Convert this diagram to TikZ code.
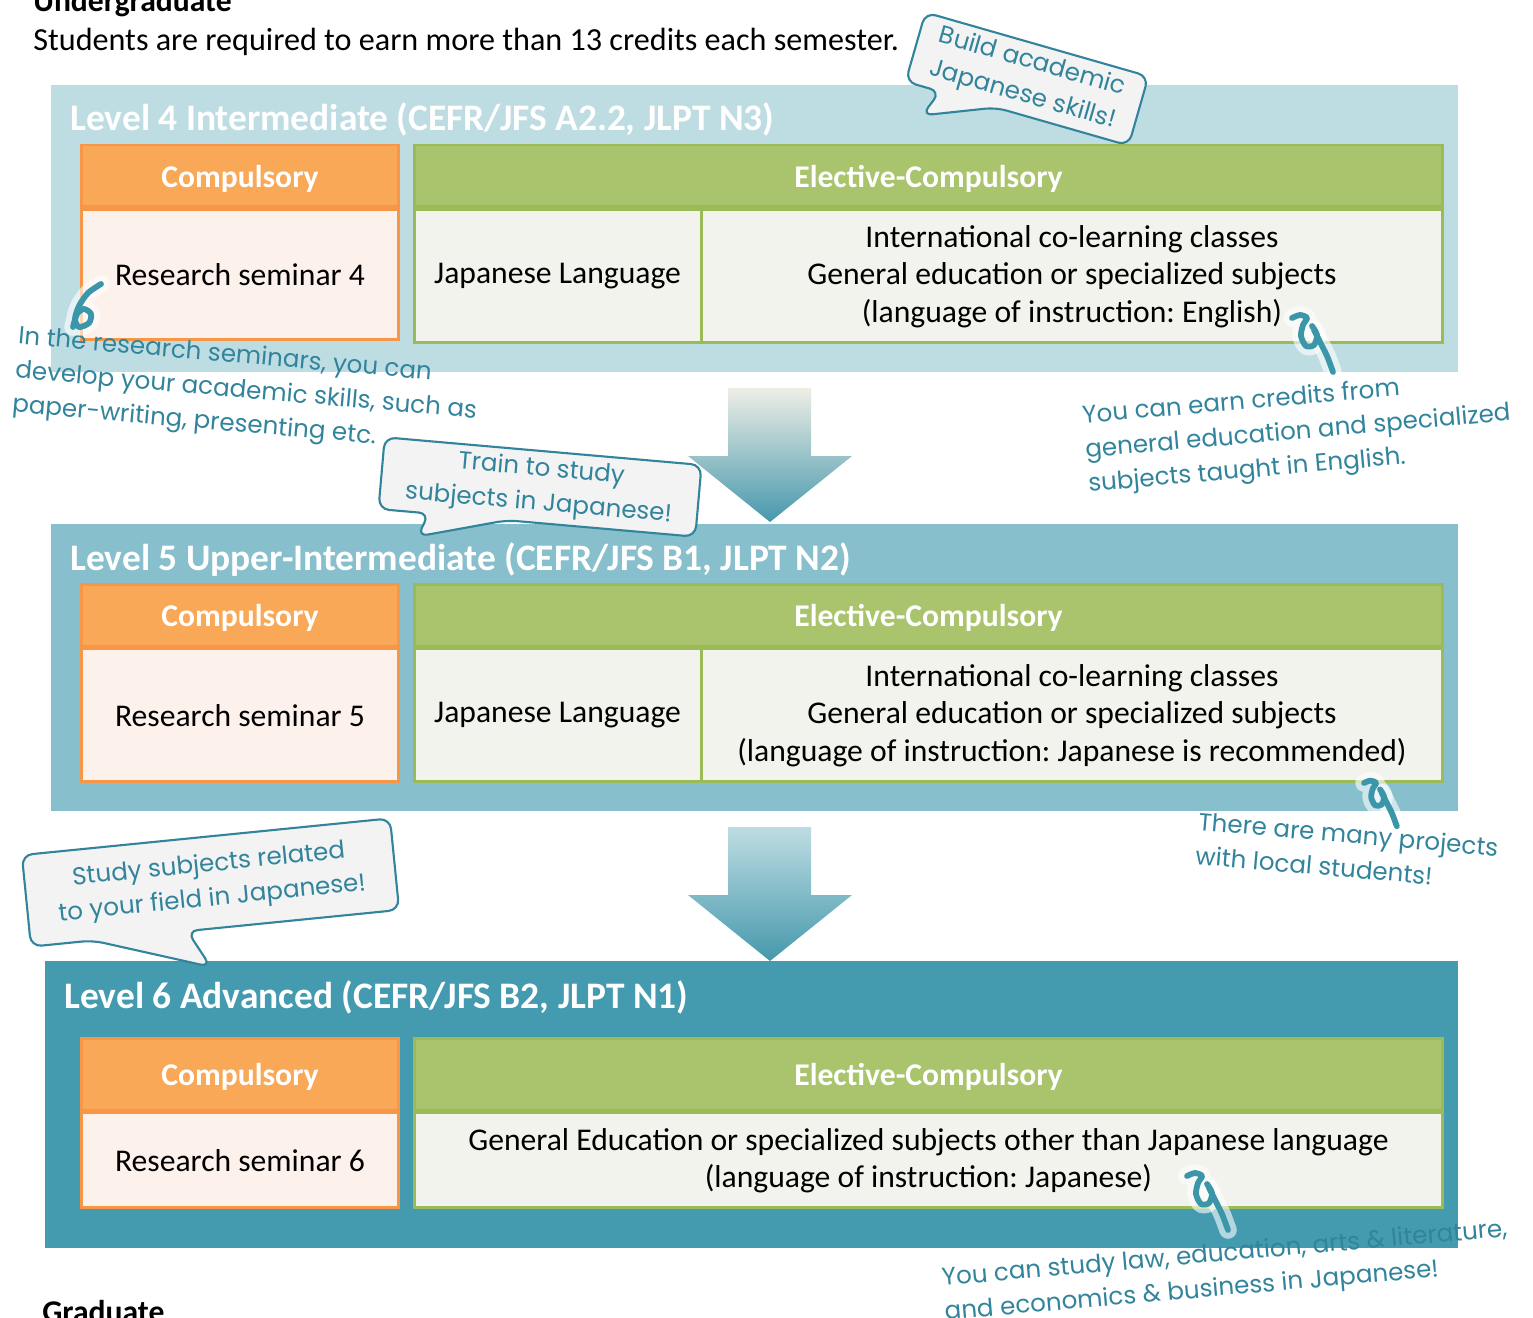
\documentclass[tikz,border=0pt]{standalone}
\usepackage{fontspec}
\setmainfont{Carlito}
\newfontfamily\handfont{Poppins}
\usetikzlibrary{positioning}
\frenchspacing

\definecolor{lvfour}{RGB}{190,221,227}
\definecolor{lvfive}{RGB}{136,191,204}
\definecolor{lvsix}{RGB}{68,154,175}
\definecolor{orhead}{RGB}{249,168,87}
\definecolor{orline}{RGB}{247,150,70}
\definecolor{orbody}{RGB}{253,241,236}
\definecolor{grhead}{RGB}{169,196,108}
\definecolor{grline}{RGB}{155,187,89}
\definecolor{grbody}{RGB}{241,243,236}
\definecolor{tealtext}{RGB}{49,132,155}
\definecolor{tealhook}{RGB}{59,150,170}
\definecolor{bubble}{RGB}{243,243,243}
\definecolor{arrtop}{RGB}{238,238,230}
\definecolor{arrmid}{RGB}{190,221,227}
\definecolor{arrbot}{RGB}{70,152,172}

\newcommand{\bodysize}{\fontsize{18}{21.3}\selectfont}
\newcommand{\handsize}{\handfont\fontsize{14}{19.5}\selectfont}

\tikzset{
	panel/.style={inner sep=0, minimum width=28.14cm, minimum height=5.74cm},
	leveltitle/.style={anchor=base west, inner sep=0, text=white, font=\fontsize{21.3}{25}\selectfont\bfseries},
	headcell/.style={draw, line width=1.7pt, inner sep=0, text depth=0pt, text=white, font=\bodysize\bfseries},
	comphead/.style={headcell, fill=orhead, draw=orline, minimum width=6.36cm},
	elehead/.style={headcell, fill=grhead, draw=grline, minimum width=20.58cm},
	compbody/.style={draw=orline, fill=orbody, line width=1.7pt, inner sep=0, minimum width=6.36cm, font=\bodysize, align=center},
	elebody/.style={draw=grline, fill=grbody, line width=1.7pt, inner sep=0, font=\bodysize, align=center},
	callout/.style={draw=tealtext, fill=bubble, line width=1.2pt, rounded corners=6pt},
	handtext/.style={text=tealtext, font=\handsize, align=center, inner sep=0},
	note/.style={text=tealtext, font=\handsize, align=left, inner sep=0},
	hook/.style={draw=tealhook, line width=3.3pt, line cap=round, line join=round},
	glow/.style={draw=white, opacity=0.6, line width=10pt, line cap=round, line join=round},
}

\begin{document}
\begin{tikzpicture}[x=0.02cm, y=-0.02cm]
	\useasboundingbox (0,0) rectangle (1533,1317);
	% headings
	\node[anchor=base west, inner sep=0, font=\bodysize\bfseries] (ugrad) at (33,12) {Undergraduate};
	\node[anchor=base west, inner sep=0, font=\fontsize{18.3}{22}\selectfont] (rule) at (33,51) {Students are required to earn more than 13 credits each semester.};
	\node[anchor=base west, inner sep=0, font=\bodysize\bfseries] (grad) at (42,1322) {Graduate};

	% Level 4
	\node[panel, fill=lvfour] (lv4) at (754.5,228.5) {};
	\node[leveltitle] (lv4t) at (70,131) {Level 4 Intermediate (CEFR/JFS A2.2, JLPT N3)};
	\node[comphead, minimum height=1.24cm] (c4h) at (240,176) {Compulsory};
	\node[compbody, minimum height=2.6cm, below=0pt of c4h] (c4b) {Research seminar 4};
	\node[elehead, minimum height=1.24cm] (e4h) at (928.5,176) {Elective-Compulsory};
	\node[elebody, minimum width=5.74cm, minimum height=2.66cm, below=0pt of e4h.south west, anchor=north west] (j4) {Japanese Language};
	\node[elebody, minimum width=14.84cm, minimum height=2.66cm, below=0pt of e4h.south east, anchor=north east] (i4) {International co-learning classes\\General education or specialized subjects\\(language of instruction: English)};

	% Level 5
	\node[panel, fill=lvfive] (lv5) at (754.5,667.5) {};
	\node[leveltitle] (lv5t) at (70,570) {Level 5 Upper-Intermediate (CEFR/JFS B1, JLPT N2)};
	\node[comphead, minimum height=1.24cm] (c5h) at (240,615) {Compulsory};
	\node[compbody, minimum height=2.66cm, below=0pt of c5h] (c5b) {Research seminar 5};
	\node[elehead, minimum height=1.24cm] (e5h) at (928.5,615) {Elective-Compulsory};
	\node[elebody, minimum width=5.74cm, minimum height=2.66cm, below=0pt of e5h.south west, anchor=north west] (j5) {Japanese Language};
	\node[elebody, minimum width=14.84cm, minimum height=2.66cm, below=0pt of e5h.south east, anchor=north east] (i5) {International co-learning classes\\General education or specialized subjects\\(language of instruction: Japanese is recommended)};

	% Level 6
	\node[panel, fill=lvsix, minimum width=28.26cm] (lv6) at (751.5,1104.5) {};
	\node[leveltitle] (lv6t) at (64,1008) {Level 6 Advanced (CEFR/JFS B2, JLPT N1)};
	\node[comphead, minimum height=1.44cm] (c6h) at (240,1074) {Compulsory};
	\node[compbody, minimum height=1.9cm, below=0pt of c6h] (c6b) {Research seminar 6};
	\node[elehead, minimum height=1.44cm] (e6h) at (928.5,1074) {Elective-Compulsory};
	\node[elebody, minimum width=20.58cm, minimum height=1.9cm, below=0pt of e6h] (g6) {General Education or specialized subjects other than Japanese language\\(language of instruction: Japanese)};

	% arrows between levels
	\shade[top color=arrtop, middle color=arrmid, bottom color=arrbot] (728,388) -- (811,388) -- (811,456) -- (852,456) -- (770,522) -- (688,456) -- (728,456) -- cycle;
	\shade[top color=arrmid, bottom color=arrbot] (728,827) -- (811,827) -- (811,895) -- (852,895) -- (770,961) -- (688,895) -- (728,895) -- cycle;

	% callouts
	\begin{scope}[shift={(1027,79)}, rotate=-16]
		\draw[callout] (-116,-36) -- (116,-36) -- (116,36) -- (-22,36) -- (-91,64) -- (-80,36) -- (-116,36) -- cycle;
		\node[handtext, rotate=-16] (bubA) at (0,0) {Build academic\\Japanese skills!};
	\end{scope}
	\begin{scope}[shift={(540,487)}, rotate=-5]
		\draw[callout] (-159,-36) -- (159,-36) -- (159,36) -- (-30,36) -- (-118,60) -- (-108,36) -- (-159,36) -- cycle;
		\node[handtext, rotate=-5] (bubB) at (0,0) {Train to study\\subjects in Japanese!};
	\end{scope}
	\begin{scope}[shift={(210.5,882.5)}, rotate=5.7]
		\draw[callout] (-185,-46) -- (185,-46) -- (185,46) -- (-28,46) -- (-8,84) -- (-123,46) -- (-185,46) -- cycle;
		\node[handtext, rotate=5.7] (bubC) at (0,0) {Study subjects related\\to your field in Japanese!};
	\end{scope}

	% notes
	\node[note, rotate=-5] (noteA) at (246,392) {In the research seminars, you can\\develop your academic skills, such as\\paper-writing, presenting etc.};
	\node[note, rotate=5] (noteB) at (1298,433) {You can earn credits from\\general education and specialized\\subjects taught in English.};
	\node[note, rotate=-5] (noteC) at (1347,851) {There are many projects\\with local students!};
	\node[note, rotate=5] (noteD) at (1226,1272) {You can study law, education, arts \& literature,\\and economics \& business in Japanese!};

	% hooks
	\foreach \hx/\hy/\hs in {1292/318/1, 1364/783/0.8, 1187/1176/1}{
		\begin{scope}[shift={(\hx,\hy)}, scale=\hs]
			\draw[glow] plot[smooth] coordinates {(0,0) (8,-3) (15,0) (11,7) (9,18) (14,28) (22,27) (25,17) (20,8)};
			\draw[glow] plot[smooth] coordinates {(22,12) (28,24) (35,38) (41,54)};
			\draw[hook] plot[smooth] coordinates {(0,0) (8,-3) (15,0) (11,7) (9,18) (14,28) (22,27) (25,17) (20,8)};
			\draw[hook] plot[smooth] coordinates {(22,12) (28,24) (35,38) (41,54)};
		\end{scope}
	}
	\draw[glow] plot[smooth] coordinates {(101,284) (88,293) (79,306) (75,319) (79,327) (89,323) (91,314) (84,309) (77,314) (73,327)};
	\draw[hook] plot[smooth] coordinates {(101,284) (88,293) (79,306) (75,319) (79,327) (89,323) (91,314) (84,309) (77,314) (73,327)};
\end{tikzpicture}
\end{document}
